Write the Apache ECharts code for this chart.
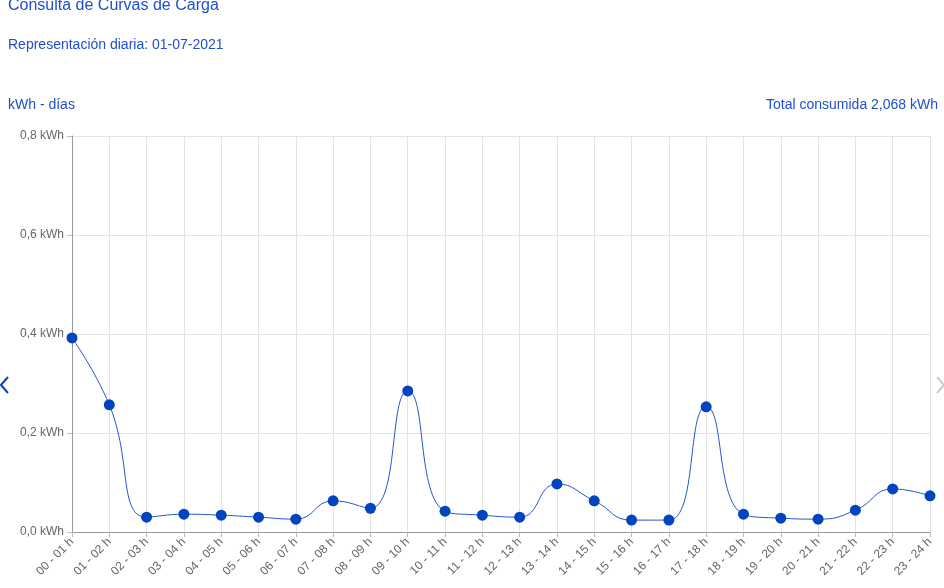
<!DOCTYPE html>
<html><head><meta charset="utf-8">
<script src="https://cdn.jsdelivr.net/npm/echarts@6/dist/echarts.min.js"></script>
<style>html,body{margin:0;padding:0;background:#fff}#c{width:944px;height:588px}</style>
</head><body><div id="c"></div>
<script>
const categories = ["00 - 01 h","01 - 02 h","02 - 03 h","03 - 04 h","04 - 05 h","05 - 06 h","06 - 07 h","07 - 08 h","08 - 09 h","09 - 10 h","10 - 11 h","11 - 12 h","12 - 13 h","13 - 14 h","14 - 15 h","15 - 16 h","16 - 17 h","17 - 18 h","18 - 19 h","19 - 20 h","20 - 21 h","21 - 22 h","22 - 23 h","23 - 24 h"];
const consumo = [0.392,0.257,0.030,0.036,0.034,0.030,0.026,0.063,0.048,0.285,0.042,0.034,0.030,0.097,0.063,0.024,0.024,0.253,0.036,0.028,0.026,0.044,0.087,0.073];
const titleText = "Consulta de Curvas de Carga";
const subtitleText = "Representación diaria: 01-07-2021";
const unitText = "kWh - días";
const totalText = "Total consumida 2,068 kWh";

const blue = '#1f4fd0';
const chart = echarts.init(document.getElementById('c'));
const ff = '"Liberation Sans", Arial, sans-serif';
chart.setOption({
  animation: false,
  textStyle: {fontFamily: ff},
  grid: {left: 72, right: 14, top: 136, bottom: 56},
  graphic: [
    {type:'text', left: 8, top: -2, style:{text: titleText, fill: blue, font: '16px ' + ff}},
    {type:'text', left: 8, top: 38, style:{text: subtitleText, fill: blue, font: '14px ' + ff}},
    {type:'text', left: 8, top: 98, style:{text: unitText, fill: blue, font: '14px ' + ff}},
    {type:'text', right: 6, top: 98, style:{text: totalText, fill: blue, font: '14px ' + ff}},
    {type:'polyline', shape:{points:[[8,377],[1,385],[8,393]]}, style:{stroke:'#0a45c0', lineWidth:2, fill:null}},
    {type:'polyline', shape:{points:[[937,377],[944,385],[937,393]]}, style:{stroke:'#cccccc', lineWidth:2, fill:null}}
  ],
  xAxis: {
    type: 'category', data: categories, boundaryGap: false,
    axisLine: {lineStyle: {color: '#999'}},
    axisTick: {show: true, length: 5, lineStyle: {color: '#bbb'}, alignWithLabel: true},
    axisLabel: {rotate: 45, color: '#666', fontSize: 12, margin: 8, interval: 0},
    splitLine: {show: true, lineStyle: {color: '#e3e3e3'}}
  },
  yAxis: {
    type: 'value', min: 0, max: 0.8, interval: 0.2,
    axisLine: {show: true, lineStyle: {color: '#999'}},
    axisTick: {show: true, length: 5, lineStyle: {color: '#bbb'}},
    axisLabel: {color: '#666', fontSize: 12, margin: 8,
      formatter: v => v.toFixed(1).replace('.', ',') + ' kWh'},
    splitLine: {lineStyle: {color: '#e3e3e3'}}
  },
  series: [{
    type: 'line', data: consumo, smooth: 0.5,
    symbol: 'circle', symbolSize: 11,
    lineStyle: {color: '#2255cc', width: 1},
    itemStyle: {color: '#0044bf'}
  }]
});
</script></body></html>
